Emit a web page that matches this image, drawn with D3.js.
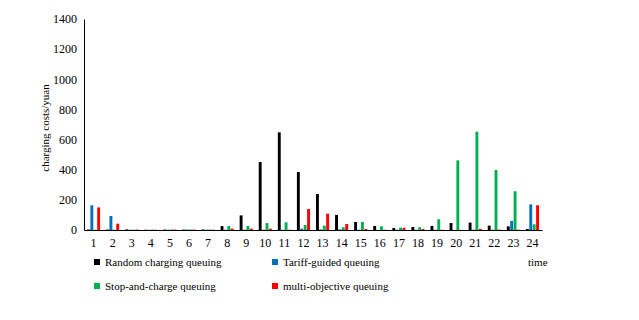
<!DOCTYPE html>
<html>
<head>
<meta charset="utf-8">
<script src="https://cdn.jsdelivr.net/npm/d3@7/dist/d3.min.js"></script>
<style>
  body { margin: 0; background: #fff; }
  svg text { font-family: "Liberation Serif", "Times New Roman", serif; fill: #000; }
</style>
</head>
<body>
<svg id="chart" width="639" height="320"></svg>
<script>
const hours = d3.range(1, 25).map(String);
const seriesNames = [
  "Random charging queuing",
  "Tariff-guided queuing",
  "Stop-and-charge queuing",
  "multi-objective queuing",
];
const seriesColors = ["#000000", "#0070C0", "#00B050", "#FF0000"];

const randomQueuing = [3, 3, 4, 2, 3, 3, 3, 26, 97, 451, 648, 385, 239, 100, 53, 27, 13, 20, 27, 46, 49, 29, 24, 7];
const tariffQueuing = [164, 93, 2, 1, 2, 3, 2, 2, 2, 2, 2, 9, 4, 4, 2, 1, 2, 2, 2, 1, 2, 2, 60, 170];
const stopQueuing = [2, 2, 2, 3, 3, 3, 3, 26, 26, 46, 51, 33, 29, 18, 53, 24, 15, 18, 71, 462, 652, 398, 257, 38];
const multiQueuing = [150, 42, 3, 2, 3, 3, 2, 9, 9, 9, 2, 139, 108, 40, 7, 2, 15, 7, 2, 1, 7, 3, 2, 164];
const yTicks = [0, 200, 400, 600, 800, 1000, 1200, 1400];

const allSeries = [randomQueuing, tariffQueuing, stopQueuing, multiQueuing];
const rows = hours.map((hour, i) => ({
  hour,
  values: allSeries.map((values, k) => ({ key: k, value: values[i] })),
}));

const serif = '"Liberation Serif", "Times New Roman", serif';
const svg = d3.select("#chart");
const margin = { left: 84, top: 19, right: 97, bottom: 90 };
const width = 639 - margin.left - margin.right;
const height = 320 - margin.top - margin.bottom;

const g = svg.append("g").attr("transform", `translate(${margin.left},${margin.top})`);

const x0 = d3.scaleBand().domain(hours).range([0, width]).paddingInner(0.26).paddingOuter(0.13);
const x1 = d3.scaleBand().domain(d3.range(4)).range([0, x0.bandwidth()]).padding(0.15);
const y = d3.scaleLinear().domain([0, 1400]).range([height, 0]);

// bars, one group per hour
g.selectAll(".hour")
  .data(rows)
  .join("g")
  .attr("class", "hour")
  .attr("transform", (d) => `translate(${x0(d.hour)},0)`)
  .selectAll("rect")
  .data((d) => d.values)
  .join("rect")
  .attr("x", (d) => x1(d.key))
  .attr("width", x1.bandwidth())
  .attr("y", (d) => y(d.value))
  .attr("height", (d) => height - y(d.value))
  .attr("fill", (d) => seriesColors[d.key]);

// axes, no tick marks
const yAxis = g
  .append("g")
  .call(d3.axisLeft(y).tickValues(yTicks).tickFormat(d3.format("d")).tickSize(0).tickPadding(7));
yAxis.attr("font-family", serif).attr("font-size", 12);
yAxis.select(".domain").attr("stroke", "#000").attr("stroke-width", 1);

const xAxis = g
  .append("g")
  .attr("transform", `translate(0,${height})`)
  .call(d3.axisBottom(x0).tickSize(0).tickPadding(8));
xAxis.attr("font-family", serif).attr("font-size", 12);
xAxis.select(".domain").attr("stroke", "#000").attr("stroke-width", 1);

svg
  .append("text")
  .attr("transform", `translate(49,128) rotate(-90)`)
  .attr("text-anchor", "middle")
  .style("font-size", "11px")
  .text("charging costs/yuan");

// legend in two rows
const legendItems = seriesNames.map((name, i) => ({
  name,
  color: seriesColors[i],
  x: i % 2 === 0 ? 94 : 272,
  y: i < 2 ? 262 : 286,
}));

const legend = svg
  .selectAll(".legend-item")
  .data(legendItems)
  .join("g")
  .attr("class", "legend-item")
  .attr("transform", (d) => `translate(${d.x},${d.y})`);

legend.append("rect").attr("x", 0).attr("y", -3).attr("width", 6).attr("height", 6).attr("fill", (d) => d.color);
legend
  .append("text")
  .attr("x", 11)
  .attr("dy", "0.35em")
  .style("font-size", "11px")
  .text((d) => d.name);

svg
  .append("text")
  .attr("x", 528)
  .attr("y", 262)
  .attr("dy", "0.35em")
  .style("font-size", "11px")
  .text("time");
</script>
</body>
</html>
